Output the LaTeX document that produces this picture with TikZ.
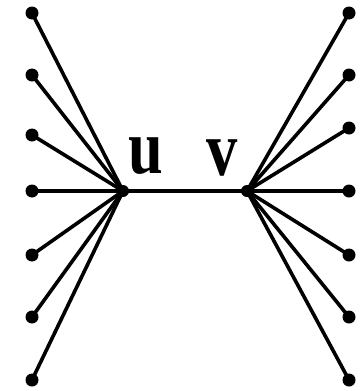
\documentclass[tikz,border=0pt]{standalone}
\usepackage{fontspec}
\setmainfont{Liberation Serif}
\begin{document}
\begin{tikzpicture}[x=1pt,y=-1pt,
  dot/.style={circle,fill=black,inner sep=0pt,minimum size=13pt},
  hub/.style={circle,fill=black,inner sep=0pt,minimum size=12pt},
  edge/.style={line width=3.6pt,black},
  lab/.style={font=\fontsize{78}{78}\selectfont\bfseries,inner sep=0pt,anchor=base,xscale=0.8}]
\useasboundingbox (0,0) rectangle (364,391);
\node[hub] (u) at (123,191) {};
\node[hub] (v) at (247,191) {};
\foreach \i/\y in {1/13,2/75,3/135,4/191,5/255,6/317,7/380}{
  \node[dot] (l\i) at (32,\y) {};
  \draw[edge] (u.center) -- (l\i.center);
}
\foreach \i/\y in {1/13,2/75,3/128,4/191,5/255,6/317,7/380}{
  \node[dot] (r\i) at (349,\y) {};
  \draw[edge] (v.center) -- (r\i.center);
}
\draw[edge] (u.center) -- (v.center);
\node[lab] (ul) at (145.5,173) {u};
\node[lab] (vl) at (222.5,175) {v};
\end{tikzpicture}
\end{document}
